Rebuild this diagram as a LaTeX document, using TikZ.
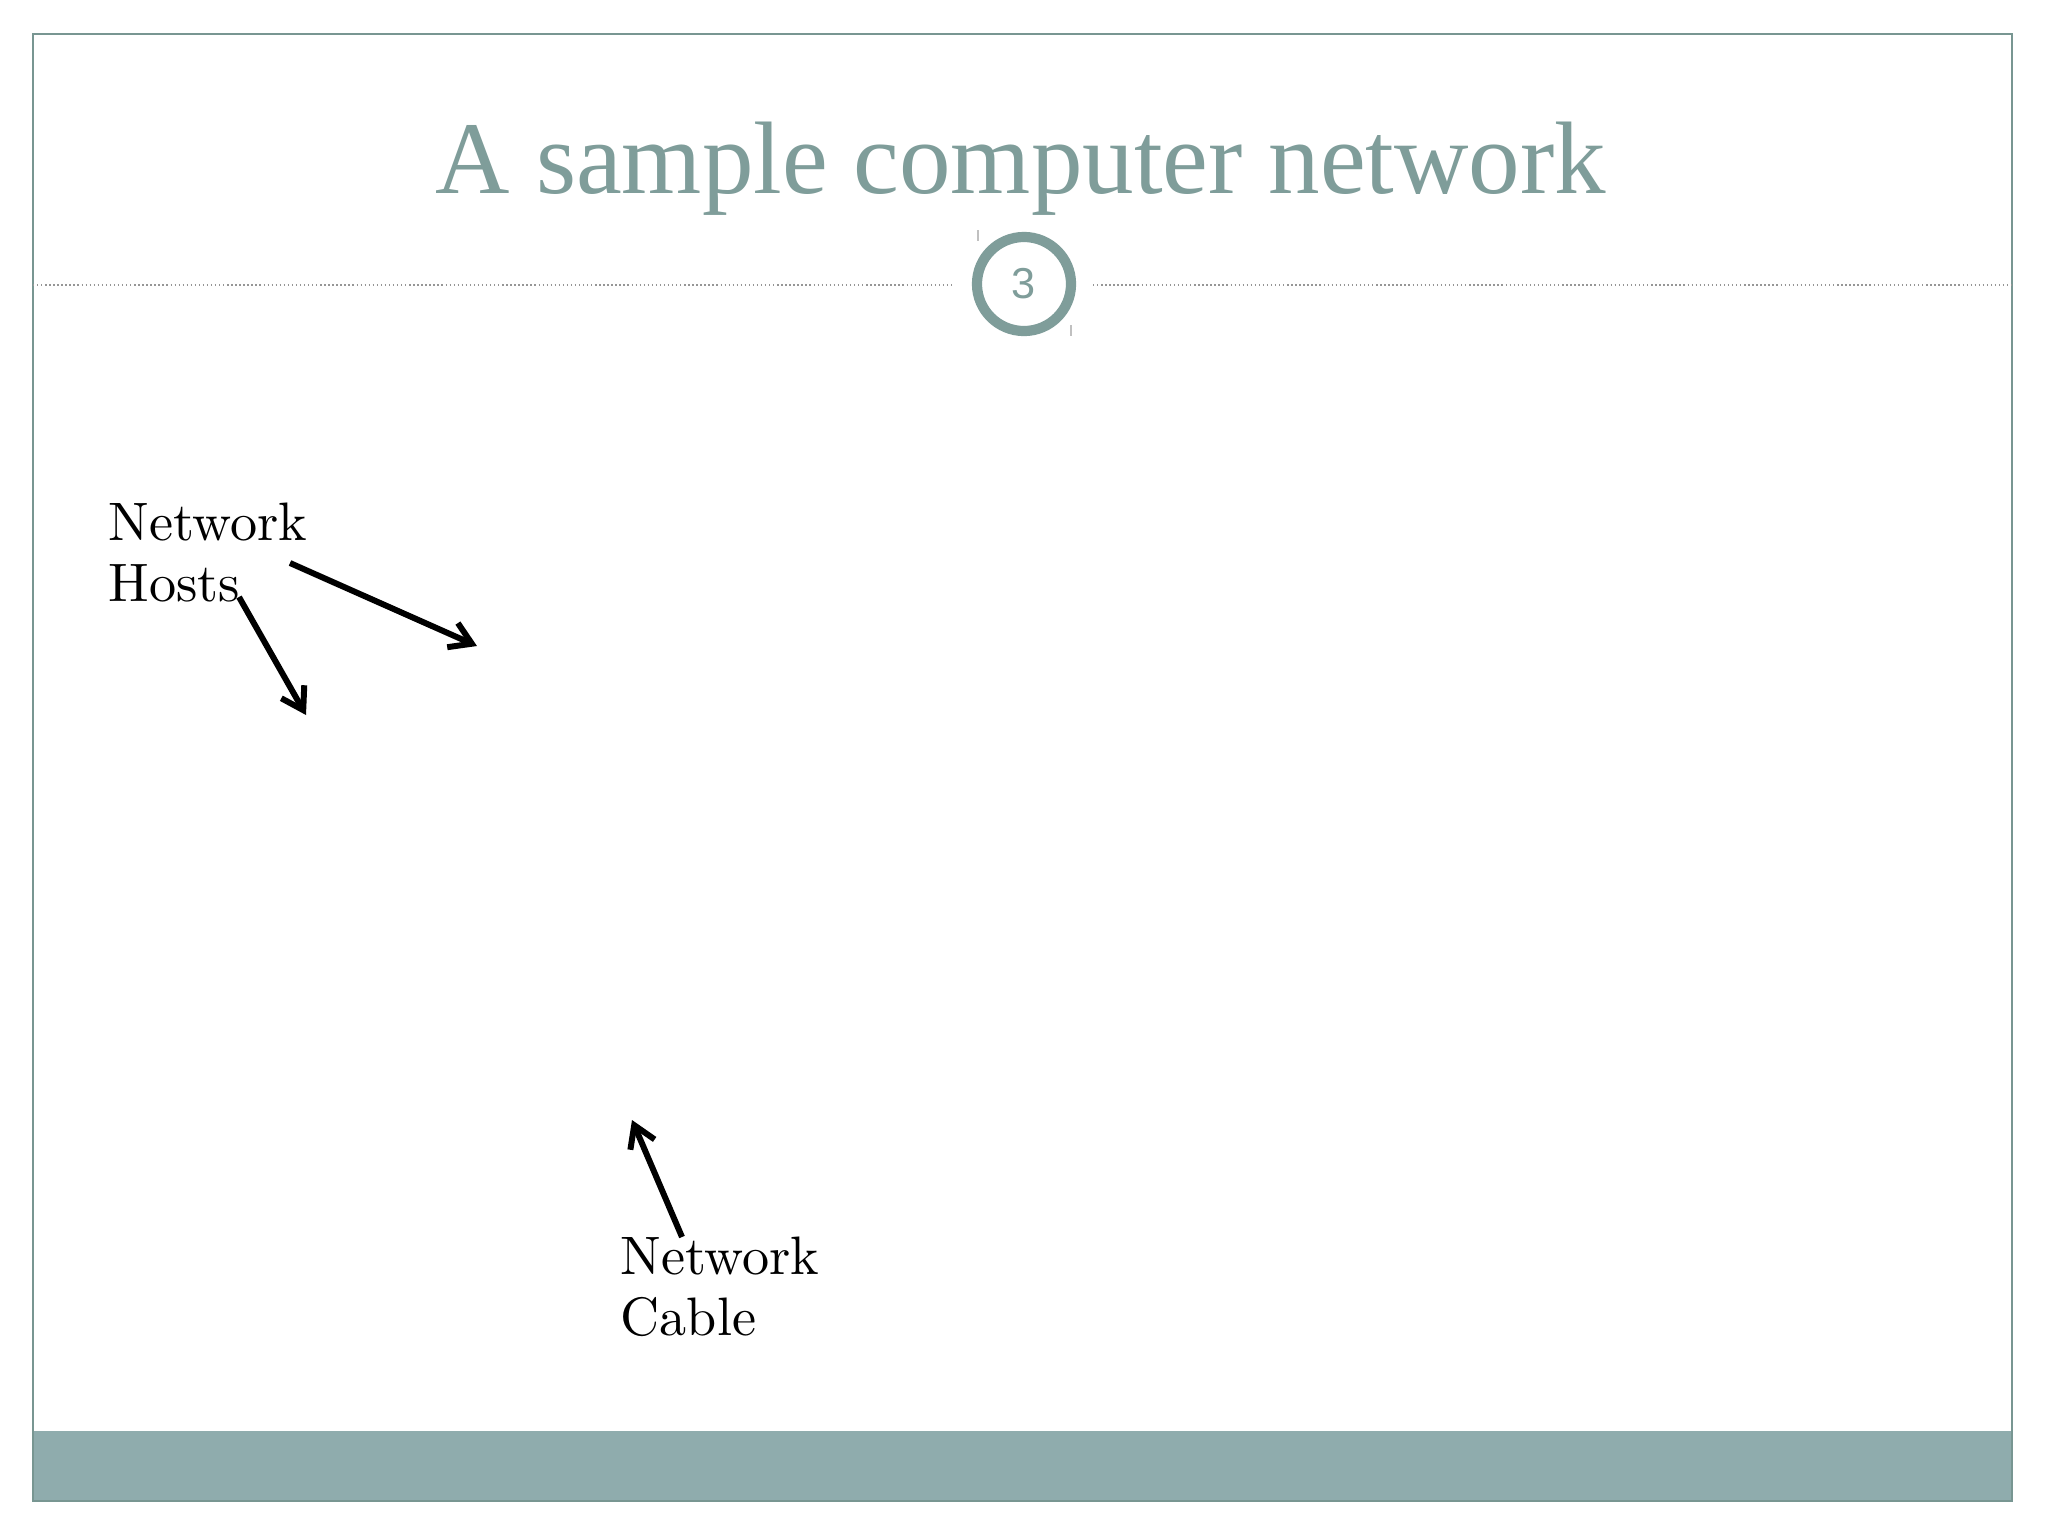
\documentclass[tikz,border=0pt]{standalone}
\usepackage{fontspec}
\usepackage{tikz}
\usetikzlibrary{arrows.meta}
\newfontfamily\titlefont{Liberation Serif}
\newfontfamily\numfont{Liberation Sans}
\newfontfamily\labelfont{lmroman10-regular.otf}
\definecolor{slate}{RGB}{127,157,154}
\definecolor{footer}{RGB}{143,172,173}
\definecolor{frameline}{RGB}{120,150,146}
\definecolor{dotgrey}{RGB}{150,150,150}

\begin{document}
\begin{tikzpicture}[x=0.01cm, y=-0.01cm,
    callout/.style={draw, line width=1.7pt, -{Straight Barb[length=6pt, width=7.5pt]}},
    label/.style={align=left, anchor=base west, inner sep=0pt, font=\labelfont\fontsize{15.4}{17.1}\selectfont}]
    \useasboundingbox (0,0) rectangle (2048,1536);
    \fill[white] (0,0) rectangle (2048,1536);
    % slide frame and footer band
    \fill[footer] (33,1431) rectangle (2012,1501);
    \draw[frameline, line width=0.6pt] (33,34) rectangle (2012,1501);
    % title
    \node[anchor=base, inner sep=0pt, text=slate, font=\titlefont\fontsize{29.3}{35}\selectfont] (title) at (1021,193) {A sample computer network};
    % dotted rule with the page number
    \draw[dotgrey, line width=0.6pt, dash pattern=on 0.4pt off 0.75pt] (33,285) -- (955,285);
    \draw[dotgrey, line width=0.6pt, dash pattern=on 0.4pt off 0.75pt] (1093,285) -- (2012,285);
    \node[circle, draw=slate, line width=2.9pt, minimum size=0.94cm, inner sep=0pt, text=slate, font=\numfont\fontsize{12.3}{14}\selectfont] (page) at (1024,284) {3};
    \draw[dotgrey!60, line width=0.3pt] (978,230) -- (978,241);
    \draw[dotgrey!60, line width=0.3pt] (1071,325) -- (1071,336);
    % labels
    \node[label] (hosts) at (108,601) {Network\\Hosts};
    \node[label] (cable) at (620,1335) {Network\\Cable};
    % arrow ends
    \coordinate (h1s) at (290,563);
    \coordinate (h1e) at (477,646);
    \coordinate (h2s) at (239,597);
    \coordinate (h2e) at (306,715);
    \coordinate (c1s) at (682,1237);
    \coordinate (c1e) at (632,1120);
    \draw[callout] (h1s) -- (h1e);
    \draw[callout] (h2s) -- (h2e);
    \draw[callout] (c1s) -- (c1e);
\end{tikzpicture}
\end{document}
